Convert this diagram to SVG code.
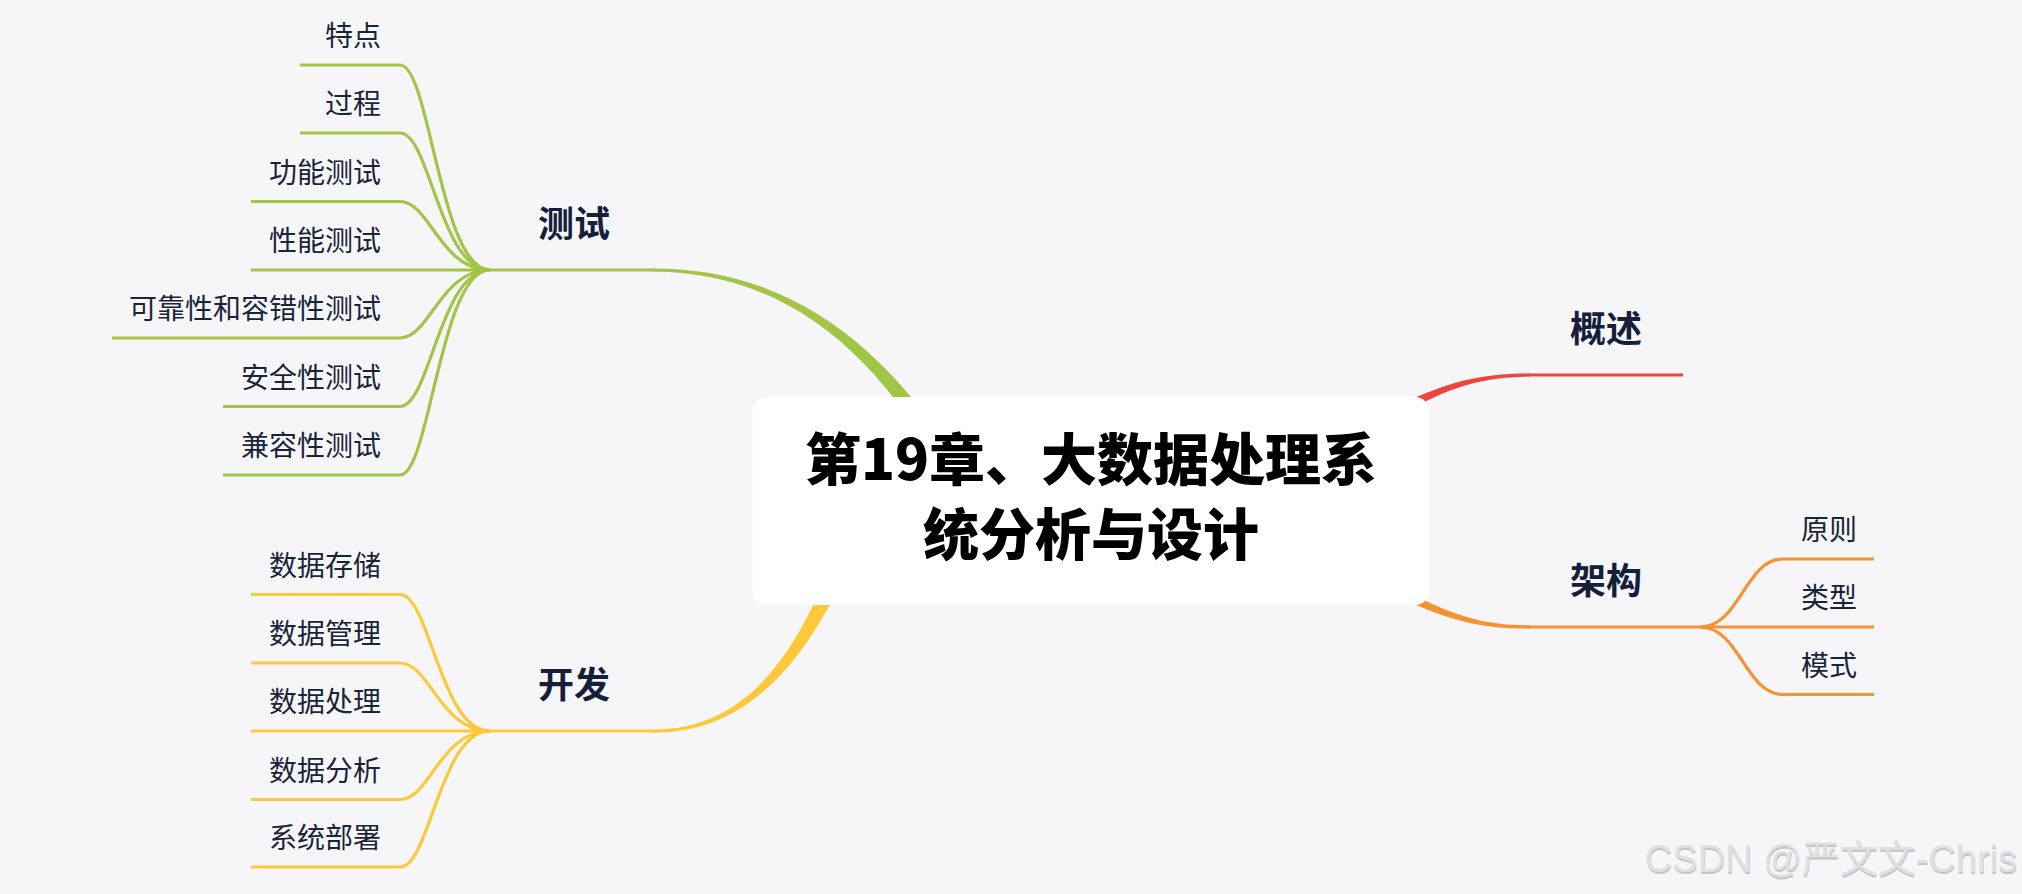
<svg xmlns="http://www.w3.org/2000/svg" width="2022" height="894" viewBox="0 0 2022 894">
<style>
.leaf{font-family:"Noto Sans CJK SC","Noto Sans",sans-serif;font-size:28px;fill:#1a2438}
.main{font-family:"Noto Sans CJK SC","Noto Sans",sans-serif;font-size:36px;font-weight:700;fill:#14203a;text-anchor:middle}
.title{font-family:"Noto Sans CJK SC","Noto Sans",sans-serif;font-size:56px;font-weight:900;fill:#000;text-anchor:middle}
.lg{fill:none;stroke:#a2c447;stroke-width:3.2}
.ly{fill:none;stroke:#fdc93b;stroke-width:3.2}
.lo{fill:none;stroke:#f7922e;stroke-width:3.2}
.lr{fill:none;stroke:#f0443a;stroke-width:3.2}
.wm{font-family:"Liberation Sans","Noto Sans CJK SC",sans-serif;font-size:38px;text-anchor:end}
</style>
<rect x="0" y="0" width="2022" height="894" fill="#f6f6f8"/>

<g id="connectors">
  <!-- thick main branches -->
  <path fill="#a2c447" d="M 652 268.4 C 778 267.5, 882 334, 966 475 L 950 485 C 872 341, 778 272.5, 652 271.6 Z"/>
  <path fill="#fdc93b" d="M 654 729.4 C 740 729, 795 667, 842 536 L 858 544 C 806 673, 740 733, 654 732.6 Z"/>
  <path fill="#f0443a" d="M 1530 373.4 C 1485 373.2, 1449 379.5, 1387.6 410.6 L 1392.4 419.4 C 1451 384.5, 1485 376.8, 1530 376.6 Z"/>
  <path fill="#f7922e" d="M 1530 628.6 C 1485 628.8, 1449 622.5, 1387.6 591.4 L 1392.4 582.6 C 1451 617.5, 1485 625.2, 1530 625.4 Z"/>
  <!-- main thin lines -->
  <path class="lg" d="M 490 270 L 655 270"/>
  <path class="ly" d="M 490 731 L 657 731"/>
  <path class="lr" d="M 1527 375 L 1683 375"/>
  <path class="lo" d="M 1527 627 L 1874 627"/>
  <!-- test leaves -->
  <path class="lg" d="M 300 65 L 400 65 C 430 65, 440 270, 490 270"/>
  <path class="lg" d="M 300 133 L 400 133 C 430 133, 440 270, 490 270"/>
  <path class="lg" d="M 251 201.5 L 400 201.5 C 430 201.5, 440 270, 490 270"/>
  <path class="lg" d="M 251 270 L 490 270"/>
  <path class="lg" d="M 112 338 L 400 338 C 430 338, 440 270, 490 270"/>
  <path class="lg" d="M 223 406.5 L 400 406.5 C 430 406.5, 440 270, 490 270"/>
  <path class="lg" d="M 223 475 L 400 475 C 430 475, 440 270, 490 270"/>
  <!-- dev leaves -->
  <path class="ly" d="M 251 594.5 L 400 594.5 C 430 594.5, 440 731, 490 731"/>
  <path class="ly" d="M 251 663 L 400 663 C 430 663, 440 731, 490 731"/>
  <path class="ly" d="M 251 731 L 490 731"/>
  <path class="ly" d="M 251 799.5 L 400 799.5 C 430 799.5, 440 731, 490 731"/>
  <path class="ly" d="M 251 867 L 400 867 C 430 867, 440 731, 490 731"/>
  <!-- arch leaves -->
  <path class="lo" d="M 1700 627 C 1740 627, 1745 559, 1783 559 L 1874 559"/>
  <path class="lo" d="M 1700 627 C 1740 627, 1745 694.5, 1783 694.5 L 1874 694.5"/>
</g>

<g id="center">
  <rect x="752.5" y="397" width="676.5" height="208" rx="14" fill="#ffffff"/>
  <text class="title" x="1091" y="480">第19章、大数据处理系</text>
  <text class="title" x="1091" y="555">统分析与设计</text>
</g>

<g id="n-test"><text class="main" x="574" y="237">测试</text></g>
<g id="n-dev"><text class="main" x="574" y="698">开发</text></g>
<g id="n-overview"><text class="main" x="1606" y="342">概述</text></g>
<g id="n-arch"><text class="main" x="1606" y="594">架构</text></g>

<g id="test-leaves" class="leaf" text-anchor="end">
  <text x="381" y="46">特点</text>
  <text x="381" y="114">过程</text>
  <text x="381" y="182.5">功能测试</text>
  <text x="381" y="251">性能测试</text>
  <text x="381" y="319">可靠性和容错性测试</text>
  <text x="381" y="387.5">安全性测试</text>
  <text x="381" y="456">兼容性测试</text>
</g>
<g id="dev-leaves" class="leaf" text-anchor="end">
  <text x="381" y="575.5">数据存储</text>
  <text x="381" y="644">数据管理</text>
  <text x="381" y="712">数据处理</text>
  <text x="381" y="780.5">数据分析</text>
  <text x="381" y="848">系统部署</text>
</g>
<g id="arch-leaves" class="leaf" text-anchor="start">
  <text x="1801" y="540">原则</text>
  <text x="1801" y="608">类型</text>
  <text x="1801" y="675.5">模式</text>
</g>

<g id="watermark">
  <text class="wm" x="2017.5" y="873.5" fill="#c4c4c4">CSDN @严文文-Chris</text>
  <text class="wm" x="2017" y="872" fill="#e0e0e2">CSDN @严文文-Chris</text>
</g>
</svg>
